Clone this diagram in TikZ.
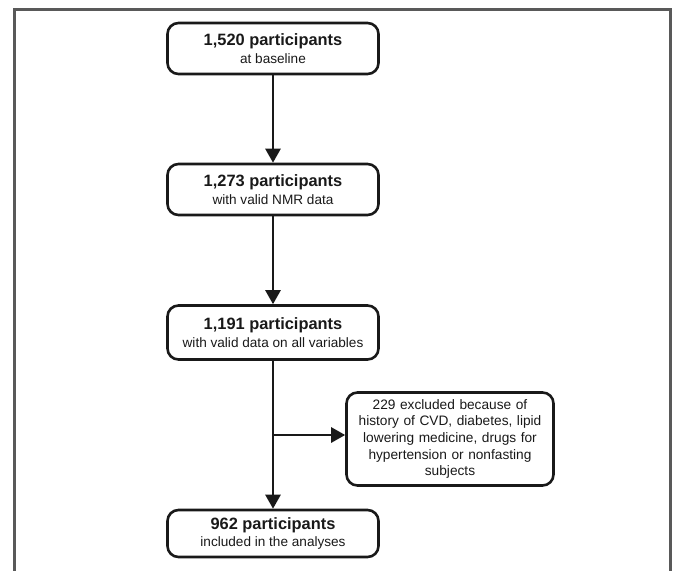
\documentclass[tikz,border=0pt]{standalone}
\usepackage{fontspec}
\setmainfont{Liberation Sans}
\usetikzlibrary{arrows.meta}

\begin{document}
\begin{tikzpicture}[
    x=1pt, y=-1pt,
    stage/.style={draw=black!90, line width=2.6pt, rounded corners=11pt, minimum width=211pt, minimum height=51pt,
                  align=center, inner sep=0pt, font=\fontsize{13.6}{17.5}\selectfont, text=black!90},
    excl/.style={stage, minimum width=207pt, minimum height=93pt, text width=200pt},
    flow/.style={line width=2.6pt, draw=black!90, -{Triangle[length=14pt,width=15pt]}},
  ]
    \useasboundingbox (0,0) rectangle (676,570);
    % outer frame, open at the bottom
    \draw[black!65, line width=2.4pt] (14.5,572) -- (14.5,9.5) -- (670.5,9.5) -- (670.5,572);

    \node[stage] (base) at (273,48.5)
      {{\fontsize{16.4}{18}\selectfont\bfseries 1,520 participants}\\ at baseline};
    \node[stage] (nmr) at (273,189.5)
      {{\fontsize{16.4}{18}\selectfont\bfseries 1,273 participants}\\ with valid NMR data};
    \node[stage, minimum height=54pt] (vars) at (273,332.5)
      {{\fontsize{16.4}{18}\selectfont\bfseries 1,191 participants}\\ with valid data on all variables};
    \node[stage, minimum height=47pt] (final) at (273,533.5)
      {{\fontsize{16.4}{18}\selectfont\bfseries 962 participants}\\ included in the analyses};
    \node[excl, font=\fontsize{13.7}{16.7}\selectfont] (out) at (450,439)
      {229 excluded because of\\ history of CVD, diabetes, lipid\\ lowering medicine, drugs for\\ hypertension or nonfasting\\ subjects};

    \draw[flow] (base) -- (nmr);
    \draw[flow] (nmr) -- (vars);
    \draw[flow] (vars) -- (final);
    \path ([yshift=4pt]out.west) coordinate (tap);
    \coordinate (split) at (vars.south |- tap);
    \draw[flow] (split) -- (tap);
  \end{tikzpicture}
\end{document}
